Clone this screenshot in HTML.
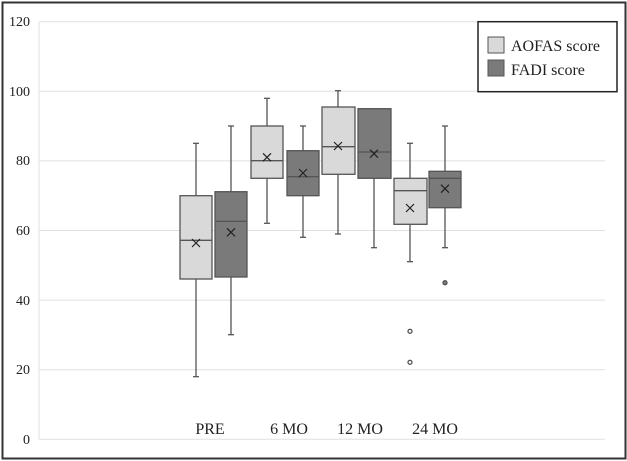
<!DOCTYPE html>
<html><head><meta charset="utf-8"><style>body{margin:0;background:#fff}svg{display:block}text{font-family:"Liberation Serif",serif;fill:#222}</style></head><body>
<svg width="627" height="461" viewBox="0 0 627 461" xmlns="http://www.w3.org/2000/svg">
<rect x="2.5" y="2.5" width="623" height="456" fill="#fff" stroke="#333" stroke-width="2"/>
<g stroke="#e0e0e0" stroke-width="1">
<line x1="39" x2="605" y1="21.7" y2="21.7"/><line x1="39" x2="605" y1="91.3" y2="91.3"/><line x1="39" x2="605" y1="160.9" y2="160.9"/><line x1="39" x2="605" y1="230.5" y2="230.5"/><line x1="39" x2="605" y1="300.1" y2="300.1"/><line x1="39" x2="605" y1="369.7" y2="369.7"/><line x1="39" x2="605" y1="439.3" y2="439.3"/><line x1="39" x2="39" y1="21.7" y2="439.3"/>
</g>
<g font-size="14" text-anchor="end">
<text x="30" y="26">120</text><text x="30" y="96">100</text><text x="30" y="165">80</text><text x="30" y="235">60</text><text x="30" y="305">40</text><text x="30" y="374">20</text><text x="30" y="444">0</text>
</g>
<g stroke="#555" stroke-width="1.3">
<!-- PRE A -->
<line x1="196" x2="196" y1="143.3" y2="376.7"/><line x1="193" x2="199" y1="143.3" y2="143.3"/><line x1="193" x2="199" y1="376.7" y2="376.7"/>
<rect x="180" y="195.7" width="32" height="83.3" fill="#d9d9d9"/><line x1="180" x2="212" y1="240.3" y2="240.3"/>
<!-- PRE F -->
<line x1="231" x2="231" y1="126" y2="334.7"/><line x1="228" x2="234" y1="126" y2="126"/><line x1="228" x2="234" y1="334.7" y2="334.7"/>
<rect x="215" y="191.7" width="32" height="85.3" fill="#7a7a7a"/><line x1="215" x2="247" y1="221.3" y2="221.3"/>
<!-- 6 A -->
<line x1="267" x2="267" y1="98.3" y2="223.3"/><line x1="264" x2="270" y1="98.3" y2="98.3"/><line x1="264" x2="270" y1="223.3" y2="223.3"/>
<rect x="251" y="126" width="32" height="52.3" fill="#d9d9d9"/><line x1="251" x2="283" y1="160.7" y2="160.7"/>
<!-- 6 F -->
<line x1="303" x2="303" y1="126" y2="237.3"/><line x1="300" x2="306" y1="126" y2="126"/><line x1="300" x2="306" y1="237.3" y2="237.3"/>
<rect x="287" y="150.7" width="32" height="45" fill="#7a7a7a"/><line x1="287" x2="319" y1="176.7" y2="176.7"/>
<!-- 12 A -->
<line x1="338" x2="338" y1="90.7" y2="234"/><line x1="335" x2="341" y1="90.7" y2="90.7"/><line x1="335" x2="341" y1="234" y2="234"/>
<rect x="322" y="107" width="33" height="67.3" fill="#d9d9d9"/><line x1="322" x2="355" y1="146.7" y2="146.7"/>
<!-- 12 F -->
<line x1="374" x2="374" y1="178.3" y2="247.7"/><line x1="371" x2="377" y1="247.7" y2="247.7"/>
<rect x="358" y="108.7" width="33" height="69.6" fill="#7a7a7a"/><line x1="358" x2="391" y1="152" y2="152"/>
<!-- 24 A -->
<line x1="410" x2="410" y1="143.3" y2="261.7"/><line x1="407" x2="413" y1="143.3" y2="143.3"/><line x1="407" x2="413" y1="261.7" y2="261.7"/>
<rect x="394" y="178.3" width="33" height="46" fill="#d9d9d9"/><line x1="394" x2="427" y1="190.7" y2="190.7"/>
<circle cx="410" cy="331.3" r="2" fill="#fff"/><circle cx="410" cy="362.3" r="2" fill="#fff"/>
<!-- 24 F -->
<line x1="445" x2="445" y1="126" y2="247.7"/><line x1="442" x2="448" y1="126" y2="126"/><line x1="442" x2="448" y1="247.7" y2="247.7"/>
<rect x="429" y="171.3" width="32" height="36.4" fill="#7a7a7a"/><line x1="429" x2="461" y1="178.3" y2="178.3"/>
<circle cx="445" cy="282.7" r="2" fill="#7a7a7a"/>
</g>
<g stroke="#222" stroke-width="1.2">
<path d="M192 239l8 8M200 239l-8 8"/><path d="M227 228.3l8 8M235 228.3l-8 8"/><path d="M263 153.3l8 8M271 153.3l-8 8"/><path d="M299 169l8 8M307 169l-8 8"/><path d="M334 142l8 8M342 142l-8 8"/><path d="M370 149.7l8 8M378 149.7l-8 8"/><path d="M406 204l8 8M414 204l-8 8"/><path d="M441 184.7l8 8M449 184.7l-8 8"/>
</g>
<g font-size="16" text-anchor="middle">
<text x="210" y="434">PRE</text><text x="289" y="434">6 MO</text><text x="360" y="434">12 MO</text><text x="435" y="434">24 MO</text>
</g>
<rect x="478" y="21.7" width="139" height="70" fill="#fff" stroke="#222" stroke-width="1.5"/>
<rect x="488" y="37" width="16" height="16" fill="#d9d9d9" stroke="#555"/>
<rect x="488" y="60" width="16" height="16" fill="#7a7a7a" stroke="#555"/>
<g font-size="16"><text x="511" y="51">AOFAS score</text><text x="511" y="75">FADI score</text></g>
</svg>
</body></html>
